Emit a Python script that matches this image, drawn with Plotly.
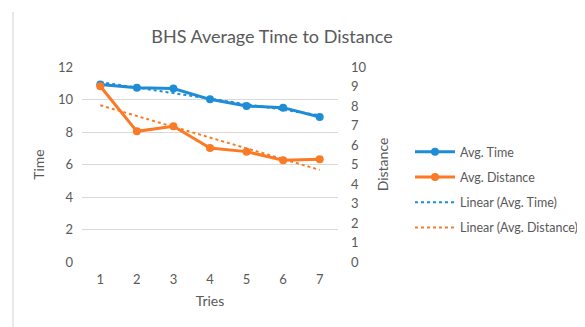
import numpy as np
import plotly.graph_objects as go

tries = [1, 2, 3, 4, 5, 6, 7]
avg_time = [10.92, 10.73, 10.67, 10.01, 9.60, 9.50, 8.92]
avg_distance = [9.01, 6.70, 6.96, 5.85, 5.66, 5.22, 5.27]
time_ticks = [0, 2, 4, 6, 8, 10, 12]
dist_ticks = [0, 1, 2, 3, 4, 5, 6, 7, 8, 9, 10]

BLUE = "#1f8dd6"
ORANGE = "#fb7a25"
GRAY = "#595959"
FONT = "Lato, Open Sans, sans-serif"

W, H = 577, 319
L, T = 74, 59
PW, PH = 256, 195

x = np.array(tries, dtype=float)
pt = np.polyfit(x, avg_time, 1)
pd_ = np.polyfit(x, avg_distance, 1)
trend_time = np.polyval(pt, x)
trend_dist = np.polyval(pd_, x)

fig = go.Figure()
fig.add_trace(go.Scatter(x=tries, y=avg_time, name="Avg. Time", mode="lines+markers",
                         legendgroup="a",
                         line=dict(color=BLUE, width=3), marker=dict(size=8, color=BLUE)))
fig.add_trace(go.Scatter(x=tries, y=avg_distance, name="Avg. Distance", mode="lines+markers",
                         legendgroup="b",
                         yaxis="y2", line=dict(color=ORANGE, width=3), marker=dict(size=8, color=ORANGE)))
fig.add_trace(go.Scatter(x=tries, y=trend_time, name="Linear (Avg. Time)", mode="lines",
                         legendgroup="c",
                         line=dict(color=BLUE, width=2, dash="dot")))
fig.add_trace(go.Scatter(x=tries, y=trend_dist, name="Linear (Avg. Distance)", mode="lines",
                         legendgroup="d",
                         yaxis="y2", line=dict(color=ORANGE, width=2, dash="dot")))

fig.update_layout(
    width=W, height=H,
    margin=dict(l=L, r=W - L - PW, t=T, b=H - T - PH, autoexpand=False),
    paper_bgcolor="white", plot_bgcolor="white",
    font=dict(family=FONT, color=GRAY, size=13),
    title=dict(text="BHS Average Time to Distance", x=264 / W, xanchor="center",
               y=1 - 29 / H, yanchor="middle", font=dict(size=18, color=GRAY, family=FONT)),
    xaxis=dict(range=[0.5, 7.5], tickvals=tries, ticktext=[str(t) for t in tries],
               showgrid=False, zeroline=False, showline=False, ticks="",
               ticklabelstandoff=8,
               title=dict(text="Tries", font=dict(size=14, color=GRAY), standoff=10)),
    yaxis=dict(range=[0, 12], tickvals=time_ticks, showgrid=True, gridcolor="#d9d9d9",
               gridwidth=1, zeroline=False, showline=False, ticks="",
               ticklabelstandoff=8,
               title=dict(text="Time", font=dict(size=14, color=GRAY), standoff=10)),
    yaxis2=dict(range=[0, 10], tickvals=dist_ticks, overlaying="y", side="right",
                showgrid=False, zeroline=False, showline=False, ticks="",
                ticklabelstandoff=12,
                title=dict(text="Distance", font=dict(size=14, color=GRAY), standoff=12)),
    legend=dict(x=(402 - L) / PW, xanchor="left", y=(T + PH - 129) / PH, yanchor="top",
                font=dict(size=12.5, color=GRAY), itemwidth=40, tracegroupgap=6,
                bgcolor="rgba(0,0,0,0)"),
    showlegend=True,
)
fig.add_shape(type="line", xref="paper", yref="paper",
              x0=(5 - L) / PW, x1=(5 - L) / PW, y0=-(H - T - PH) / PH, y1=(T + PH - 4) / PH,
              line=dict(color="#d0d0d0", width=1))

fig.write_html("out.html")
